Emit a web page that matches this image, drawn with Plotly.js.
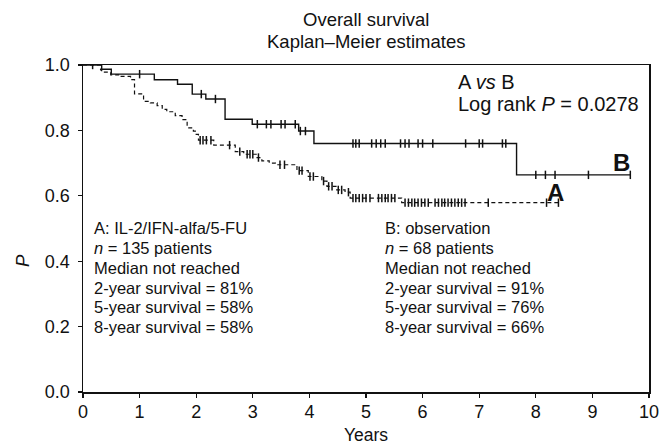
<!DOCTYPE html>
<html>
<head>
<meta charset="utf-8">
<script src="https://cdn.plot.ly/plotly-3.0.1.min.js"></script>
<style>html,body{margin:0;padding:0;background:#fff;}#chart{width:667px;height:446px;}</style>
</head>
<body>
<div id="chart"></div>
<script>
// Group A: IL-2/IFN-alfa/5-FU (dashed)
const eventTimesA = [0.31, 0.33, 0.49, 0.66, 0.84, 0.91, 1.07, 1.19, 1.31, 1.40, 1.48, 1.63, 1.75, 1.84, 1.95, 2.00, 2.04, 2.31, 2.69, 2.84, 3.06, 3.16, 3.29, 3.40, 3.78, 3.98, 4.22, 4.31, 4.47, 4.63, 4.72, 5.63];
const survA      = [0.985, 0.978, 0.970, 0.965, 0.955, 0.912, 0.889, 0.884, 0.876, 0.864, 0.857, 0.845, 0.833, 0.808, 0.798, 0.788, 0.770, 0.755, 0.735, 0.727, 0.717, 0.707, 0.700, 0.695, 0.677, 0.659, 0.645, 0.629, 0.618, 0.611, 0.593, 0.579];
const endA = 8.40;
const censorA = [0.17, 2.07, 2.12, 2.18, 2.26, 2.59, 2.77, 2.90, 2.95, 3.00, 3.10, 3.48, 3.56, 3.82, 3.87, 4.01, 4.07, 4.25, 4.34, 4.40, 4.51, 4.57, 4.69, 4.77, 4.82, 4.88, 4.94, 5.00, 5.07, 5.22, 5.28, 5.34, 5.39, 5.45, 5.51, 5.69, 5.75, 5.81, 5.86, 5.92, 5.98, 6.04, 6.10, 6.22, 6.28, 6.34, 6.39, 6.45, 6.51, 6.57, 6.63, 6.69, 6.75, 7.16, 8.19, 8.40];

// Group B: observation (solid)
const eventTimesB = [0.33, 0.50, 1.26, 1.67, 1.93, 2.17, 2.51, 2.99, 3.81, 4.08, 7.66];
const survB      = [0.987, 0.972, 0.955, 0.941, 0.911, 0.896, 0.834, 0.819, 0.798, 0.760, 0.664];
const endB = 9.67;
const censorB = [1.00, 2.09, 2.34, 3.08, 3.24, 3.32, 3.50, 3.57, 3.75, 3.84, 3.93, 4.77, 4.82, 4.88, 5.10, 5.18, 5.26, 5.34, 5.61, 5.69, 5.76, 5.92, 6.00, 6.18, 6.76, 7.00, 7.06, 7.41, 7.47, 8.00, 8.17, 8.34, 8.93, 9.67];

const xTicks = [0,1,2,3,4,5,6,7,8,9,10];
const yTicks = [0, 0.2, 0.4, 0.6, 0.8, 1.0];

const textA = ["A: IL-2/IFN-alfa/5-FU", "<i>n</i> = 135 patients", "Median not reached", "2-year survival = 81%", "5-year survival = 58%", "8-year survival = 58%"];
const textB = ["B: observation", "<i>n</i> = 68 patients", "Median not reached", "2-year survival = 91%", "5-year survival = 76%", "8-year survival = 66%"];

function stepXY(times, surv, end) {
  return { x: [0].concat(times, [end]), y: [1].concat(surv, [surv[surv.length-1]]) };
}
function survAt(times, surv, t) {
  let s = 1;
  for (let i = 0; i < times.length; i++) { if (times[i] <= t) s = surv[i]; }
  return s;
}

const FONT = "Liberation Sans, Arial, Helvetica, sans-serif";
const INK = '#111';
const sA = stepXY(eventTimesA, survA, endA);
const sB = stepXY(eventTimesB, survB, endB);

const traces = [
  { x: sA.x, y: sA.y, mode: 'lines', line: { shape: 'hv', color: INK, width: 1.2, dash: '4px,3px' }, hoverinfo: 'skip' },
  { x: sB.x, y: sB.y, mode: 'lines', line: { shape: 'hv', color: INK, width: 1.4 }, hoverinfo: 'skip' },
  { x: censorA, y: censorA.map(t => survAt(eventTimesA, survA, t)), mode: 'markers',
    marker: { symbol: 'line-ns-open', size: 6, color: INK, line: { color: INK, width: 1.5 } }, hoverinfo: 'skip' },
  { x: censorB, y: censorB.map(t => survAt(eventTimesB, survB, t)), mode: 'markers',
    marker: { symbol: 'line-ns-open', size: 6, color: INK, line: { color: INK, width: 1.5 } }, hoverinfo: 'skip' }
];

const W = 667, H = 446, mL = 83, mR = 18, mT = 65, mB = 54;
const plotH = H - mT - mB, plotW = W - mL - mR;
function py(pix) { return (H - mB - pix) / plotH; }
function px(pix) { return (pix - mL) / plotW; }

const annotations = [];
function ann(text, x, y, size, anchor, extra) {
  annotations.push(Object.assign({ text: text, xref: 'paper', yref: 'paper', x: x, y: y, showarrow: false,
    font: { family: FONT, size: size, color: INK }, xanchor: anchor, yanchor: 'middle' }, extra || {}));
}
ann('Overall survival', 0.5, py(20), 18.5, 'center');
ann('Kaplan\u2013Meier estimates', 0.5, py(41), 18.5, 'center');
ann('Years', 0.5, py(435), 17.5, 'center');
ann('<i>P</i>', px(22), py(261), 18.5, 'center', { textangle: -90 });
ann('A <i>vs</i> B', px(456), py(82), 20, 'left');
ann('Log rank <i>P</i> = 0.0278', px(456), py(104), 20, 'left');
ann('<b>B</b>', px(621), py(162), 24, 'center');
ann('<b>A</b>', px(555), py(192), 24, 'center');
const lineY = [228, 248, 268, 288, 307, 327];
textA.forEach((t, i) => ann(t, px(92), py(lineY[i]), 16.5, 'left'));
textB.forEach((t, i) => ann(t, px(383), py(lineY[i]), 16.5, 'left'));

const axisCommon = { ticks: 'outside', ticklen: 4, tickwidth: 1.2, tickcolor: INK,
  showline: true, linecolor: INK, linewidth: 1.5, mirror: true, showgrid: false, zeroline: false,
  tickfont: { family: FONT, size: 18, color: INK } };

const layout = {
  width: W, height: H,
  margin: { l: mL, r: mR, t: mT, b: mB, pad: 0 },
  paper_bgcolor: '#fff', plot_bgcolor: '#fff',
  showlegend: false,
  font: { family: FONT, size: 18, color: INK },
  xaxis: Object.assign({ range: [0, 10], tickvals: xTicks, ticktext: xTicks.map(String), ticklabelstandoff: -1 }, axisCommon),
  yaxis: Object.assign({ range: [0, 1], tickvals: yTicks, ticktext: yTicks.map(v => v.toFixed(1)), ticklabelstandoff: 4 }, axisCommon),
  annotations: annotations
};

Plotly.newPlot('chart', traces, layout, { staticPlot: true, displayModeBar: false });
</script>
</body>
</html>
